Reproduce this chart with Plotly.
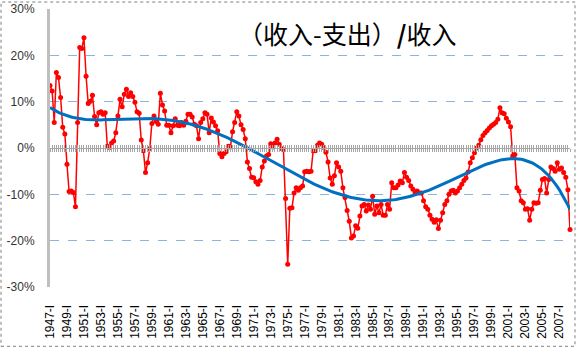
import numpy as np
import plotly.graph_objects as go

# ---------------- data ----------------
start_year = 1947
quarter_names = ["I", "II", "III", "IV"]

# (收入-支出)/收入, percent, quarterly from 1947-I
ratio_pct = [
    13.5, 12.3, 5.5, 16.3, 15.2, 10.9, 4.5, 3.0, -3.5, -9.4,
    -9.3, -9.6, -12.7, 5.5, 21.7, 21.5, 23.8, 15.5, 9.6, 10.1,
    11.4, 6.8, 5.0, 7.6, 7.8, 7.3, 7.6, 0.4, 0.1, 1.1,
    1.5, 3.3, 6.9, 10.5, 8.9, 11.6, 12.7, 11.1, 11.9, 11.1,
    9.9, 7.8, 7.5, 1.7, -0.6, -5.3, -3.2, -0.1, 5.3, 6.9,
    5.7, 5.1, 11.8, 9.3, 8.0, 4.9, 4.9, 3.3, 4.8, 6.3,
    4.9, 4.8, 5.5, 4.9, 5.8, 7.3, 7.3, 6.7, 5.1, 4.8,
    2.0, 5.5, 6.3, 7.6, 7.3, 3.3, 6.5, 5.6, 4.8, 3.7,
    -1.2, -1.9, -1.2, -0.8, 0.4, 0.2, 3.5, 5.5, 7.8, 6.9,
    5.0, 4.0, 2.0, -3.0, -4.4, -6.3, -6.4,
    -7.3, -7.8, -7.0, -4.1, -2.8, -1.7, -1.4, 0.9, 0.2, 1.1,
    1.9, 0.8, -0.1, -0.3, -10.9, -25.1,
    -13.0, -12.9, -9.7, -8.6, -9.1, -8.6, -8.2,
    -5.1, -5.0, -5.1, -5.0, -0.6, -0.6, 0.6, 1.1, 0.8, 0.1,
    -0.9, -3.0, -6.5, -7.8, -6.0, -3.2, -4.1, -5.0, -8.6, -10.7,
    -13.5, -15.8, -19.4, -19.0, -16.8, -17.3, -14.7, -12.5,
    -12.2, -13.6, -12.3, -13.2, -10.4, -14.3, -12.5, -14.0, -12.2, -14.5,
    -14.5, -12.2, -13.2, -7.5, -8.6, -8.6, -8.0, -7.1, -7.5, -5.3,
    -6.3, -7.0, -8.2, -8.9, -9.7, -9.3, -9.7, -9.7, -11.4, -12.7,
    -13.2, -14.5, -15.4, -16.0, -15.5, -17.4, -15.6, -14.0, -12.2, -11.4,
    -10.0, -9.3, -9.1, -9.7, -9.3, -8.6, -7.8, -7.0, -6.5, -5.2,
    -3.2,
    -2.1, -1.0, 0.0, 0.6, 1.8, 2.7, 3.3, 3.8, 4.3, 4.8,
    5.1, 5.5, 6.2, 8.7, 7.6, 7.4, 6.4, 5.6, 4.6, -1.7,
    -1.4, -8.6, -9.3, -11.4, -11.8, -13.2, -13.1, -15.6, -13.2, -11.8,
    -11.9, -11.8, -9.1, -6.8, -6.6, -9.7, -6.8, -4.1, -4.4, -5.0,
    -3.2, -4.6, -4.3, -5.3, -6.3, -9.0, -17.6,
]

y_tick_vals = [-30, -20, -10, 0, 10, 20, 30]
y_tick_text = ["-30%", "-20%", "-10%", "0%", "10%", "20%", "30%"]
label_every = 8
trend_order = 6
title_text = "（收入-支出）<b>/</b>收入"

# ---------------- derived ----------------
n = len(ratio_pct)
idx = np.arange(n)
categories = [f"{start_year + i // 4}-{quarter_names[i % 4]}" for i in range(n)]
trend = np.polynomial.Polynomial.fit(idx, ratio_pct, trend_order)(idx)

fig = go.Figure()
fig.add_trace(go.Scatter(
    x=idx, y=ratio_pct, mode="lines+markers", text=categories,
    line=dict(color="#FF0000", width=1.5),
    marker=dict(color="#FF0000", size=5),
    cliponaxis=False, showlegend=False,
    hovertemplate="%{text}: %{y:.1f}%<extra></extra>",
))
fig.add_trace(go.Scatter(
    x=idx, y=trend, mode="lines",
    line=dict(color="#0070C0", width=3),
    showlegend=False, hoverinfo="skip",
))
# helper traces so the zero-line category axes are drawn
for ax in ("x2", "x3"):
    fig.add_trace(go.Scatter(x=[0], y=[0], xaxis=ax, mode="markers",
                             marker=dict(opacity=0), showlegend=False,
                             hoverinfo="skip"))

xr = [0, n - 1]
fig.update_layout(
    width=578, height=348,
    margin=dict(l=50, r=8, t=9, b=61),
    paper_bgcolor="white", plot_bgcolor="white",
    font=dict(family="Liberation Sans, Arial, sans-serif", color="#000000"),
    xaxis=dict(
        range=xr, tickmode="array", automargin=False,
        tickvals=list(idx[::label_every]), ticktext=categories[::label_every],
        tickangle=-90, tickfont=dict(size=12, color="#000000"),
        showgrid=False, zeroline=False, showline=False,
        ticks="outside", ticklen=12, tickcolor="rgba(0,0,0,0)",
    ),
    xaxis2=dict(
        overlaying="x", anchor="free", position=0.5, range=xr,
        automargin=False,
        tickmode="linear", tick0=0, dtick=1, ticks="outside", ticklen=3,
        tickcolor="#A6A6A6", tickwidth=1, showticklabels=False,
        showline=True, linecolor="#A6A6A6", linewidth=1,
        showgrid=False, zeroline=False,
    ),
    xaxis3=dict(
        overlaying="x", anchor="free", position=0.5, range=xr,
        automargin=False,
        tickmode="linear", tick0=0, dtick=1, ticks="inside", ticklen=3,
        tickcolor="#A6A6A6", tickwidth=1, showticklabels=False,
        showline=False, showgrid=False, zeroline=False,
    ),
    yaxis=dict(
        range=[-30, 30], tickmode="array", automargin=False,
        tickvals=y_tick_vals, ticktext=y_tick_text,
        tickfont=dict(size=12, color="#333333"),
        showgrid=True, gridcolor="#8DB3E2", griddash="dash", gridwidth=1,
        zeroline=False, showline=True, linecolor="#BFBFBF", linewidth=3,
        ticks="outside", ticklen=10, tickcolor="rgba(0,0,0,0)",
    ),
    annotations=[dict(
        text=title_text, xref="paper", yref="paper", x=0.572, y=0.915,
        xanchor="center", yanchor="middle", showarrow=False,
        font=dict(size=25, family="Noto Sans CJK SC", color="#000000"),
    )],
    shapes=[dict(
        type="rect", xref="paper", yref="paper",
        x0=-0.0942, x1=1.0096, y0=-0.2133, y1=1.0251,
        line=dict(color="#7F7F7F", width=1, dash="dot"),
    )],
)

fig.write_html("out.html")
